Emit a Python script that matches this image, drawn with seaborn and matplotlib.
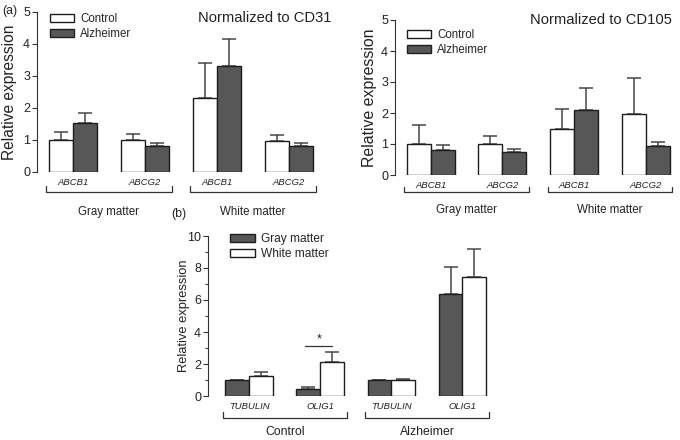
import numpy as np
import pandas as pd
import matplotlib
matplotlib.use("Agg")
import matplotlib.pyplot as plt
import matplotlib.transforms as mtransforms
from matplotlib.patches import Patch
from matplotlib.ticker import MultipleLocator
import seaborn as sns

sns.set_theme(style="ticks")
plt.rcParams["font.family"] = ["Liberation Sans", "DejaVu Sans"]

DARK = "#575757"
EDGE = "#1e1e1e"
ERR = "#474747"
AXC = "#333333"

# ── data ────────────────────────────────────────────────────────────────────
# order of bars: Gray ABCB1, Gray ABCG2, White ABCB1, White ABCG2
genes_a = ["ABCB1", "ABCG2"]
regions_a = ["Gray matter", "White matter"]
conds_a = ["Control", "Alzheimer"]

cd31_control = [1.00, 1.00, 2.30, 0.98]
cd31_control_top = [1.25, 1.20, 3.40, 1.15]   # top of error bar
cd31_alz = [1.52, 0.80, 3.30, 0.82]
cd31_alz_top = [1.85, 0.92, 4.15, 0.90]

cd105_control = [1.00, 1.00, 1.48, 1.97]
cd105_control_top = [1.60, 1.27, 2.13, 3.12]
cd105_alz = [0.80, 0.74, 2.10, 0.92]
cd105_alz_top = [0.97, 0.83, 2.82, 1.08]

# panel b: Control TUBULIN, Control OLIG1, Alzheimer TUBULIN, Alzheimer OLIG1
genes_b = ["TUBULIN", "OLIG1"]
groups_b = ["Control", "Alzheimer"]
matter_b = ["Gray matter", "White matter"]
b_gray = [1.00, 0.45, 1.00, 6.38]
b_gray_top = [1.03, 0.55, 1.03, 8.05]
b_white = [1.28, 2.12, 1.03, 7.45]
b_white_top = [1.50, 2.78, 1.08, 9.18]

W, H = 680, 440
fig = plt.figure(figsize=(W / 100, H / 100), dpi=100)


def px_axes(x0, top, x1, bottom):
    return fig.add_axes([x0 / W, 1 - bottom / H, (x1 - x0) / W, (bottom - top) / H])


def panel(ax, groups, genes, hues, values, tops, colors, ymax, xlim, fs_lab):
    keys = [f"{g}|{gn}" for g in groups for gn in genes]
    rows = []
    for h, vals in zip(hues, values):
        for k, v in zip(keys, vals):
            rows.append({"cat": k, "hue": h, "val": v})
    df = pd.DataFrame(rows)
    sns.barplot(data=df, x="cat", y="val", hue="hue", order=keys, hue_order=hues,
                palette=dict(zip(hues, colors)), saturation=1, width=0.67,
                errorbar=None, edgecolor=EDGE, linewidth=1.0, legend=False, ax=ax)
    for cont, top in zip(ax.containers, tops):
        xs = [b.get_x() + b.get_width() / 2 for b in cont]
        hs = [b.get_height() for b in cont]
        up = [t - h for t, h in zip(top, hs)]
        ax.errorbar(xs, hs, yerr=[np.zeros(len(xs)), up], fmt="none", ecolor=ERR,
                    elinewidth=1.1, capsize=5.2, capthick=1.1, zorder=0.5)
    ax.set_ylim(0, ymax)
    ax.set_xlim(*xlim)
    ax.set_xlabel("")
    ax.set_ylabel("Relative expression", fontsize=fs_lab, color="#222222")
    ax.set_xticks(range(len(keys)))
    ax.set_xticklabels(genes * len(groups), fontstyle="italic", fontsize=6.8, color="#222222")
    ax.tick_params(axis="x", length=0, pad=4)
    ax.tick_params(axis="y", length=3.5, width=0.8, color=AXC, labelsize=9,
                   labelcolor="#222222", pad=1.5)
    sns.despine(ax=ax, bottom=True)
    ax.spines["left"].set_color(AXC)
    ax.spines["left"].set_linewidth(0.8)
    ax.set_facecolor("none")
    return keys


def brackets(ax, labels, yb, ylab, fs):
    trans = mtransforms.blended_transform_factory(ax.transData, ax.transAxes)
    for i, lab in enumerate(labels):
        x0, x1 = 2 * i - 0.37, 2 * i + 1 + 0.37
        ax.plot([x0, x0, x1, x1], [yb + 0.035, yb, yb, yb + 0.035], transform=trans,
                clip_on=False, color=AXC, lw=0.9)
        ax.text(2 * i + 0.5, ylab, lab, transform=trans, ha="center", va="center",
                fontsize=fs, color="#222222")


def legend(ax, hues, colors, x, y, fs):
    handles = [Patch(facecolor=c, edgecolor=EDGE, linewidth=1.0, label=h)
               for h, c in zip(hues, colors)]
    ax.legend(handles=handles, loc="upper left", bbox_to_anchor=(x / W, 1 - y / H),
              bbox_transform=fig.transFigure, frameon=False, fontsize=fs,
              handlelength=2.1, handleheight=0.65, labelspacing=0.25,
              handletextpad=0.5, borderpad=0, borderaxespad=0)


# ── (a) left: CD31 ──────────────────────────────────────────────────────────
ax1 = px_axes(37, 12, 325, 172)
panel(ax1, regions_a, genes_a, conds_a, [cd31_control, cd31_alz],
      [cd31_control_top, cd31_alz_top], ["white", DARK], 5, (-0.5, 3.5), 11.2)
ax1.yaxis.set_label_coords(-0.069, 0.5)
brackets(ax1, regions_a, -0.125, -0.25, 8.3)
legend(ax1, conds_a, ["white", DARK], 50, 13, 8.3)

# ── (a) right: CD105 ────────────────────────────────────────────────────────
ax2 = px_axes(395, 20, 678, 175)
panel(ax2, regions_a, genes_a, conds_a, [cd105_control, cd105_alz],
      [cd105_control_top, cd105_alz_top], ["white", DARK], 5, (-0.5, 3.45), 11.4)
ax2.yaxis.set_label_coords(-0.064, 0.5)
brackets(ax2, regions_a, -0.11, -0.225, 8.3)
legend(ax2, conds_a, ["white", DARK], 407, 29, 8.3)

# ── (b) ─────────────────────────────────────────────────────────────────────
ax3 = px_axes(208, 236, 498, 396)
panel(ax3, groups_b, genes_b, matter_b, [b_gray, b_white],
      [b_gray_top, b_white_top], [DARK, "white"], 10, (-0.58, 3.5), 9.3)
ax3.yaxis.set_major_locator(MultipleLocator(2))
ax3.yaxis.set_minor_locator(MultipleLocator(1))
ax3.tick_params(axis="y", which="minor", length=2.5, width=0.8, color=AXC)
ax3.yaxis.set_label_coords(-0.062, 0.5)
brackets(ax3, groups_b, -0.1375, -0.225, 8.8)
legend(ax3, matter_b, [DARK, "white"], 230, 233, 8.6)

# significance marker over OLIG1 (Control)
olig_x = 1
ax3.plot([olig_x - 0.21, olig_x + 0.17], [3.1, 3.1], color=AXC, lw=0.9)
ax3.text(olig_x - 0.02, 3.15, "*", ha="center", va="bottom", fontsize=9, color="#222222")

# ── titles / panel labels ───────────────────────────────────────────────────
fig.text(265 / W, 1 - 18 / H, "Normalized to CD31", ha="center", va="center",
         fontsize=10.6, color="#222222")
fig.text(601 / W, 1 - 20 / H, "Normalized to CD105", ha="center", va="center",
         fontsize=10.6, color="#222222")
fig.text(2 / W, 1 - 11 / H, "(a)", ha="left", va="center", fontsize=8.8, color="#222222")
fig.text(171 / W, 1 - 214 / H, "(b)", ha="left", va="center", fontsize=8.8, color="#222222")

fig.savefig("out.png", dpi=100, facecolor="white")
